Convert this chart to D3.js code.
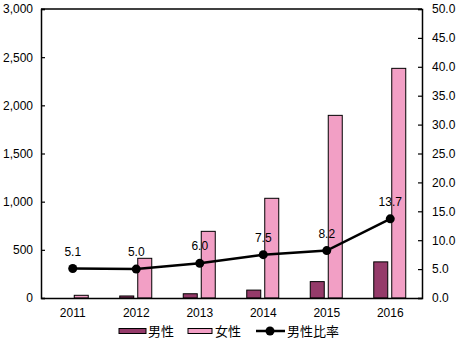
<!DOCTYPE html>
<html><head><meta charset="utf-8">
<script src="https://cdn.jsdelivr.net/npm/d3@7"></script>
<style>
body{margin:0;background:#fff;}
text{font-family:"Liberation Sans",Arial,sans-serif;fill:#000;}
.cjk{font-family:"Noto Sans CJK JP","Noto Sans CJK SC",sans-serif;}
</style></head>
<body>
<svg id="c" width="461" height="345"></svg>
<script>
const years = ["2011","2012","2013","2014","2015","2016"];
const male = [2, 21, 44, 82, 170, 375];
const female = [28, 412, 692, 1035, 1896, 2384];
const ratio = [5.1, 5.0, 6.0, 7.5, 8.2, 13.7];
const leftTicks = [0,500,1000,1500,2000,2500,3000];
const rightTicks = [0,5,10,15,20,25,30,35,40,45,50];
const seriesNames = ["男性","女性","男性比率"];
const colors = {male:"#953B6A", female:"#F29FC5"};

const svg = d3.select("#c");
const L=41, R=422, T=9, B=298;
const x = d3.scaleBand().domain(years).range([L,R]);
const yL = d3.scaleLinear().domain([0,3000]).range([B,T]);
const yR = d3.scaleLinear().domain([0,50]).range([B,T]);

// bars (bars thinner than 1px are not visible in the original)
const bw = 14;
svg.append("g").selectAll("rect").data(years.filter((d,i)=>B-yL(male[i])>=1)).join("rect")
  .attr("x", d=>x(d)+x.bandwidth()/2-16.5).attr("width", bw)
  .attr("y", d=>yL(male[years.indexOf(d)])).attr("height",d=>B-yL(male[years.indexOf(d)]))
  .attr("fill",colors.male).attr("stroke","#000").attr("stroke-width",1);
svg.append("g").selectAll("rect").data(years).join("rect")
  .attr("x", d=>x(d)+x.bandwidth()/2+1.5).attr("width", bw)
  .attr("y", (d,i)=>yL(female[i])).attr("height",(d,i)=>B-yL(female[i]))
  .attr("fill",colors.female).attr("stroke","#000").attr("stroke-width",1);

// axes
const gl = svg.append("g").attr("transform",`translate(${L},0)`)
  .call(d3.axisLeft(yL).tickValues(leftTicks).tickSize(-4).tickPadding(8).tickFormat(d3.format(",")));
const gr = svg.append("g").attr("transform",`translate(${R},0)`)
  .call(d3.axisRight(yR).tickValues(rightTicks).tickSize(-4).tickPadding(10).tickFormat(d3.format(".1f")));
const gb = svg.append("g").attr("transform",`translate(0,${B})`)
  .call(d3.axisBottom(x).tickSize(0).tickPadding(10));
[gl,gr,gb].forEach(g=>{
  g.selectAll("text").style("font-size","12px").attr("fill","#000");
  g.selectAll("line").attr("stroke","#000").attr("stroke-width",1.2);
  g.select(".domain").attr("stroke","#000").attr("stroke-width",1.5);
});
gr.selectAll("text").attr("text-anchor","start");
// top border
svg.append("line").attr("x1",L).attr("x2",R).attr("y1",T).attr("y2",T).attr("stroke","#000").attr("stroke-width",1.5);

// line
const cx = d=>x(d)+x.bandwidth()/2;
svg.append("path").datum(years)
  .attr("d", d3.line().x(cx).y((d,i)=>yR(ratio[i])))
  .attr("fill","none").attr("stroke","#000").attr("stroke-width",2.5);
svg.append("g").selectAll("circle").data(years).join("circle")
  .attr("cx",cx).attr("cy",(d,i)=>yR(ratio[i])).attr("r",4.5).attr("fill","#000");
svg.append("g").selectAll("text").data(years).join("text")
  .attr("x",cx).attr("y",(d,i)=>yR(ratio[i])-13)
  .attr("text-anchor","middle").style("font-size","12px")
  .text((d,i)=>ratio[i].toFixed(1));

// legend
const lg = svg.append("g");
const ly = 331;
lg.append("rect").attr("x",119).attr("y",ly-2.5).attr("width",27).attr("height",5)
  .attr("fill",colors.male).attr("stroke","#000").attr("stroke-width",1);
lg.append("text").attr("class","cjk").attr("x",148).attr("y",ly).attr("dy","0.36em").style("font-size","13px").text(seriesNames[0]);
lg.append("rect").attr("x",188).attr("y",ly-2.5).attr("width",24).attr("height",5)
  .attr("fill",colors.female).attr("stroke","#000").attr("stroke-width",1);
lg.append("text").attr("class","cjk").attr("x",215).attr("y",ly).attr("dy","0.36em").style("font-size","13px").text(seriesNames[1]);
lg.append("line").attr("x1",256).attr("x2",285).attr("y1",ly).attr("y2",ly).attr("stroke","#000").attr("stroke-width",2.5);
lg.append("circle").attr("cx",270).attr("cy",ly).attr("r",4.5).attr("fill","#000");
lg.append("text").attr("class","cjk").attr("x",287).attr("y",ly).attr("dy","0.36em").style("font-size","13px").text(seriesNames[2]);
</script>
</body></html>
